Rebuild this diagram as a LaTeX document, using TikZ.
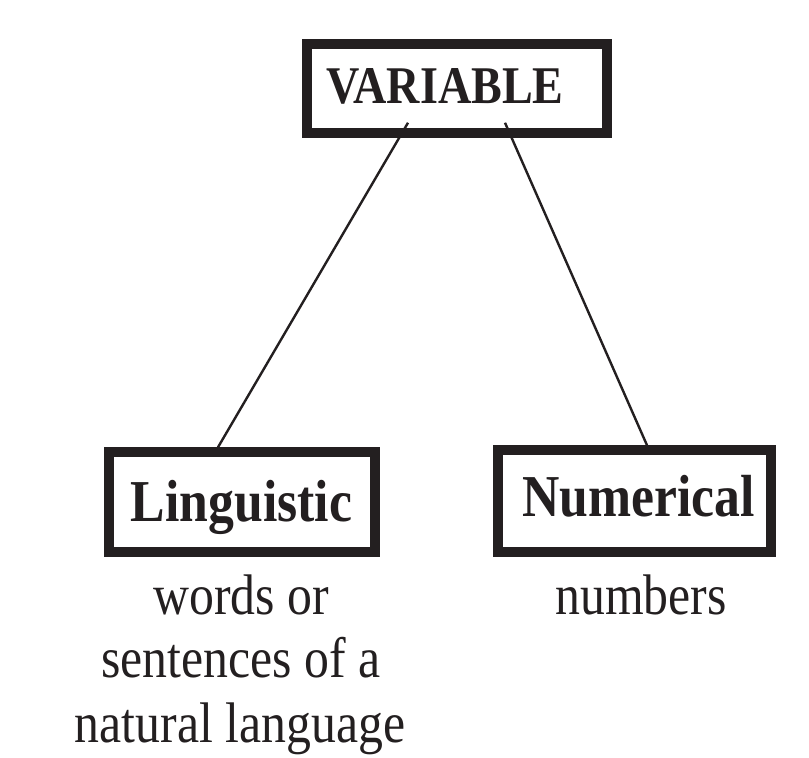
\documentclass[tikz,border=0pt]{standalone}
\usepackage{fontspec}
\setmainfont{Liberation Serif}[FakeStretch=0.87]
\usetikzlibrary{calc}
\definecolor{ink}{RGB}{35,31,32}
\begin{document}
\begin{tikzpicture}[x=0.5pt,y=-0.5pt,
  box/.style={draw=ink, line width=4.75pt, minimum width=#1, inner sep=0pt},
  title/.style={anchor=base, text=ink, inner sep=0pt, font=\bfseries\fontsize{26.5pt}{30pt}\selectfont},
  head/.style={anchor=base, text=ink, inner sep=0pt, font=\bfseries\fontsize{29.7pt}{34pt}\selectfont},
  note/.style={anchor=base, text=ink, inner sep=0pt, font=\fontsize{28.6pt}{32pt}\selectfont},
  link/.style={draw=ink, line width=1.2pt}]
\useasboundingbox (0,0) rectangle (809,758);

% boxes
\node[box=150pt, minimum height=44.5pt] (var) at (457,88.5) {};
\node[box=133pt, minimum height=50pt] (ling) at (242,502) {};
\node[box=136.5pt, minimum height=51pt] (num) at (634.5,501) {};

% box titles
\node[title] (varlabel) at (445,104) {VARIABLE};
\node[head] (linglabel) at (241.5,522) {Linguistic};
\node[head] (numlabel) at (638.5,517) {Numerical};

% descriptions under the boxes
\node[note] (lingnote1) at (241,615) {words or};
\node[note] (lingnote2) at (241,678) {sentences of a};
\node[note] (lingnote3) at (240,743) {natural language};
\node[note] (numnote) at (641,615) {numbers};

% connectors
\draw[link] ($(var.south)+(-49,-15)$) -- ($(ling.north)+(-24,0)$);
\draw[link] ($(var.south)+(48,-15)$) -- ($(num.north)+(12.5,0)$);
\end{tikzpicture}
\end{document}
